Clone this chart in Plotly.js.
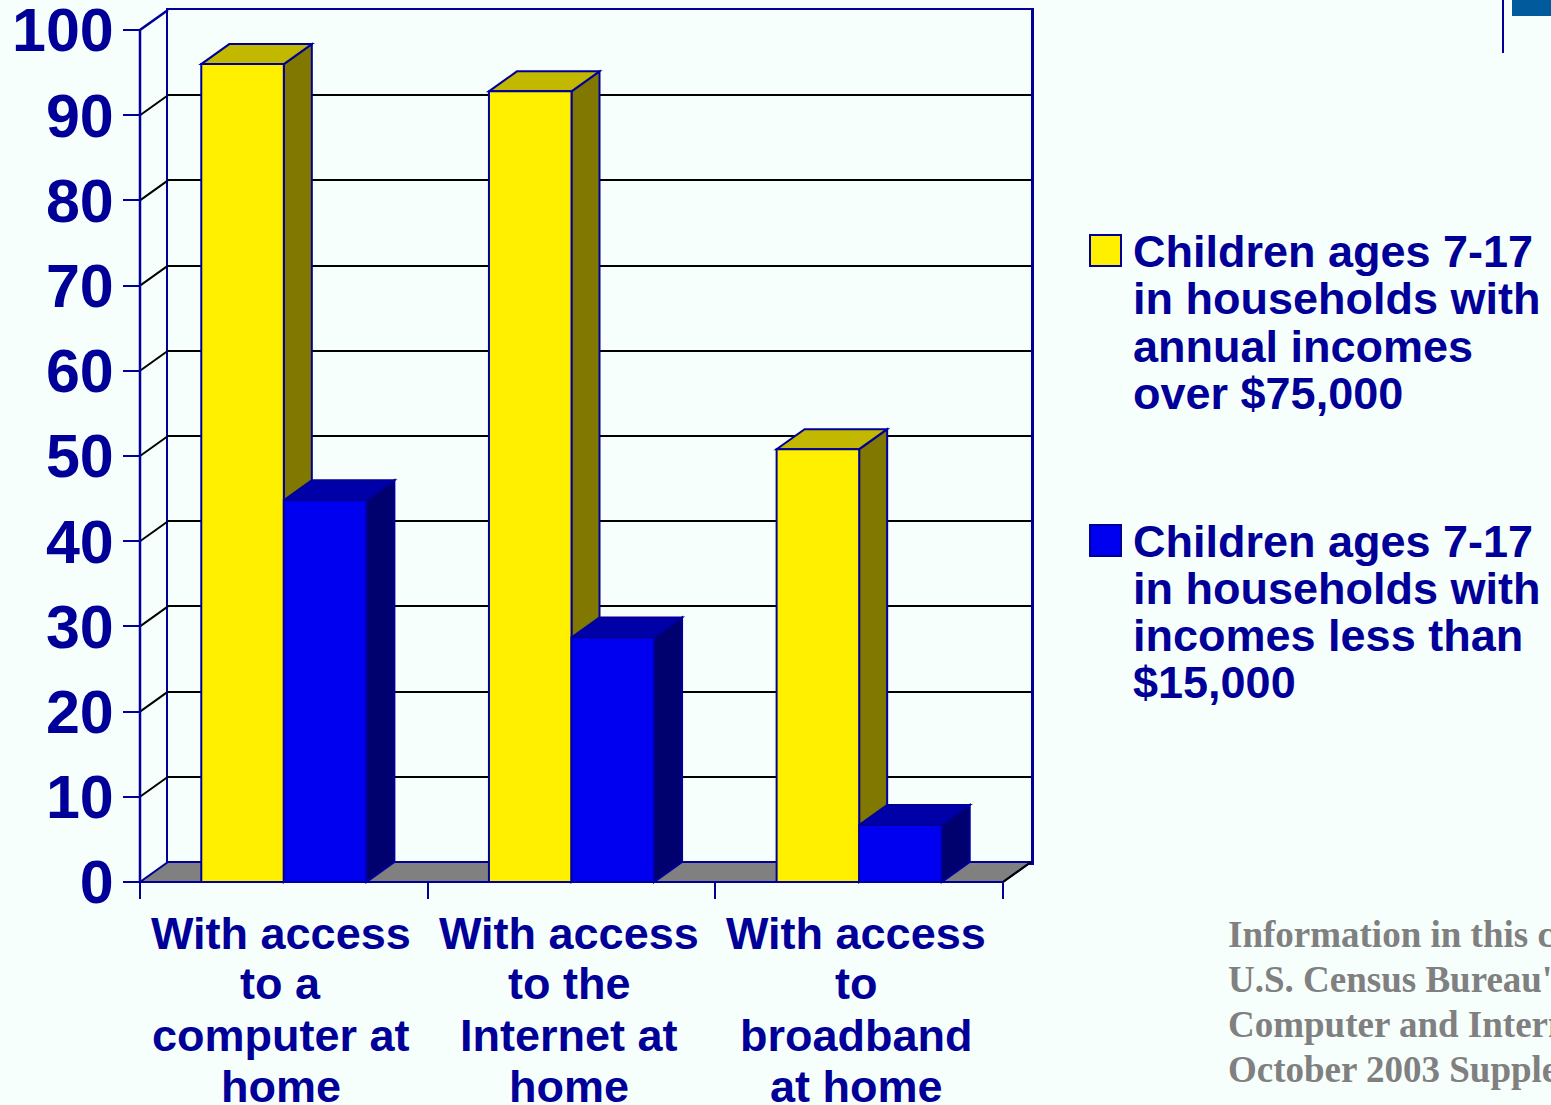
<!DOCTYPE html>
<html><head><meta charset="utf-8">
<script src="https://cdn.plot.ly/plotly-3.0.1.min.js"></script>
<style>html,body{margin:0;padding:0;background:#F7FFFC;overflow:hidden}</style>
</head><body><div id="chart" style="width:1551px;height:1105px"></div>
<script>
// ---------------- data ----------------
const categories = [
  "With access<br>to a<br>computer at<br>home",
  "With access<br>to the<br>Internet at<br>home",
  "With access<br>to<br>broadband<br>at home"
];
const seriesNames = [
  "Children ages 7-17<br>in households with<br>annual incomes<br>over $75,000",
  "Children ages 7-17<br>in households with<br>incomes less than<br>$15,000"
];
const highIncome = [96, 92.8, 50.8];
const lowIncome = [44.8, 28.7, 6.7];
const yTicks = [0, 10, 20, 30, 40, 50, 60, 70, 80, 90, 100];
const sourceLines = [
  "Information in this chart",
  "U.S. Census Bureau's",
  "Computer and Internet",
  "October 2003 Supplement"
];

// ---------------- styling / geometry ----------------
const W = 1551, H = 1105;
const NAVY = '#000099';
const BG = '#F7FFFC';
const YEL = {front: '#FFF000', top: '#C2B800', side: '#807800'};
const BLU = {front: '#0000F0', top: '#0000A8', side: '#00006E'};
const FONT = 'Liberation Sans, Arial, sans-serif';

const FRONT_L = 140, FRONT_R = 1003, FRONT_Y0 = 882, FRONT_Y100 = 30;
const DX = 28, DY = 20;
const nCat = categories.length;
const CAT_W = (FRONT_R - FRONT_L) / nCat;
const PXU = (FRONT_Y0 - FRONT_Y100) / 100;
const dxu = DX / CAT_W, dyu = DY / PXU;
const F_DOM_L = 122, F_DOM_R = 1045, F_DOM_T = 3, F_DOM_B = 895;
const BARGAP = 0.426;
const gw = 1 - BARGAP, bw = gw / 2;

const px = p => p / W;
const py = p => 1 - p / H;
const idx = categories.map((_, i) => i);

// ---------------- traces ----------------
const traces = [
  {type: 'scatter', x: [], y: [], xaxis: 'x', yaxis: 'y', showlegend: false, hoverinfo: 'skip'},
  {type: 'bar', x: idx, y: highIncome, xaxis: 'x2', yaxis: 'y2', name: seriesNames[0],
   marker: {color: YEL.front, line: {color: NAVY, width: 2}}, showlegend: false},
  {type: 'bar', x: idx, y: lowIncome, xaxis: 'x2', yaxis: 'y2', name: seriesNames[1],
   marker: {color: BLU.front, line: {color: NAVY, width: 2}}, showlegend: false}
];

// ---------------- shapes ----------------
const shapes = [];
const P = pts => 'M' + pts.map(p => p[0] + ',' + p[1]).join(' L') + ' Z';
const L0 = -0.5, R0 = nCat - 0.5;
// floor
shapes.push({type: 'path', xref: 'x2', yref: 'y2', layer: 'below',
  path: P([[L0, 0], [R0, 0], [R0 + dxu, dyu], [L0 + dxu, dyu]]),
  fillcolor: '#808080', line: {color: NAVY, width: 2}});
shapes.push({type: 'line', xref: 'x2', yref: 'y2', layer: 'below',
  x0: R0, y0: 0, x1: R0 + dxu, y1: dyu, line: {color: '#000000', width: 2}});
// left wall diagonals
yTicks.slice(1, -1).forEach(v => {
  shapes.push({type: 'line', xref: 'x2', yref: 'y2', layer: 'below',
    x0: L0, y0: v, x1: L0 + dxu, y1: v + dyu, line: {color: '#000000', width: 2}});
});
// left wall outline (front axis line + top edge)
const yMax = yTicks[yTicks.length - 1];
shapes.push({type: 'path', xref: 'x2', yref: 'y2', layer: 'below',
  path: 'M' + L0 + ',0 L' + L0 + ',' + yMax + ' L' + (L0 + dxu) + ',' + (yMax + dyu),
  line: {color: NAVY, width: 2.5}});
// 3D faces of bars
const seriesVals = [highIncome, lowIncome];
const seriesCols = [YEL, BLU];
seriesVals.forEach((vals, s) => {
  vals.forEach((v, j) => {
    const x0 = j - gw / 2 + s * bw, x1 = x0 + bw;
    shapes.push({type: 'path', xref: 'x2', yref: 'y2', layer: 'below',
      path: P([[x1, 0], [x1, v], [x1 + dxu, v + dyu], [x1 + dxu, dyu]]),
      fillcolor: seriesCols[s].side, line: {color: NAVY, width: 2}});
    shapes.push({type: 'path', xref: 'x2', yref: 'y2', layer: 'below',
      path: P([[x0, v], [x1, v], [x1 + dxu, v + dyu], [x0 + dxu, v + dyu]]),
      fillcolor: seriesCols[s].top, line: {color: NAVY, width: 2}});
  });
});
// legend keys
const LEG_TOP = [235, 525];
LEG_TOP.forEach((t, s) => {
  shapes.push({type: 'rect', xref: 'paper', yref: 'paper',
    x0: px(1090), x1: px(1121), y0: py(t), y1: py(t + 31),
    fillcolor: seriesCols[s].front, line: {color: NAVY, width: 2}});
});
// logo fragment top-right
shapes.push({type: 'line', xref: 'paper', yref: 'paper', x0: px(1503), x1: px(1503), y0: py(0), y1: py(53),
  line: {color: NAVY, width: 2}});
shapes.push({type: 'rect', xref: 'paper', yref: 'paper', x0: px(1512), x1: px(1560), y0: py(-2), y1: py(16),
  fillcolor: '#005A9C', line: {width: 0}});

// ---------------- annotations ----------------
const annotations = [];
categories.forEach((c, j) => {
  c.split('<br>').forEach((line, k) => {
    annotations.push({xref: 'x2', yref: 'paper', x: j, xshift: -3, y: py(933 + k * 51), text: line,
      showarrow: false, xanchor: 'center', yanchor: 'middle',
      font: {family: FONT, size: 45, color: NAVY, weight: 'bold'}});
  });
});
const LEG_C = [252, 541];
seriesNames.forEach((n, s) => {
  n.split('<br>').forEach((line, k) => {
    annotations.push({xref: 'paper', yref: 'paper', x: px(1131), y: py(LEG_C[s] + k * 47), text: line,
      showarrow: false, xanchor: 'left', yanchor: 'middle',
      font: {family: FONT, size: 45, color: NAVY, weight: 'bold'}});
  });
});
sourceLines.forEach((line, k) => {
  annotations.push({xref: 'paper', yref: 'paper', x: px(1226), y: py(934 + k * 45), text: line,
    showarrow: false, xanchor: 'left', yanchor: 'middle',
    font: {family: 'Liberation Serif, Times New Roman, serif', size: 37, color: '#808080', weight: 'bold'}});
});

// ---------------- layout ----------------
const layout = {
  width: W, height: H,
  margin: {l: 0, r: 0, t: 0, b: 0},
  paper_bgcolor: BG, plot_bgcolor: 'rgba(0,0,0,0)',
  showlegend: false,
  barmode: 'group', bargap: BARGAP, bargroupgap: 0,
  xaxis: {domain: [px(168), px(1031)], range: [0, 1], showgrid: false, zeroline: false,
    showticklabels: false, ticks: '', showline: true, mirror: true, linecolor: NAVY, linewidth: 2.5,
    fixedrange: true},
  yaxis: {domain: [py(862), py(10)], range: [0, yMax], tickvals: yTicks, showticklabels: false, ticks: '',
    showgrid: true, gridcolor: '#000000', gridwidth: 2, zeroline: false,
    showline: true, mirror: true, linecolor: NAVY, linewidth: 2.5, fixedrange: true},
  xaxis2: {domain: [px(F_DOM_L), px(F_DOM_R)],
    range: [L0 - (FRONT_L - F_DOM_L) / CAT_W, L0 + (F_DOM_R - FRONT_L) / CAT_W],
    anchor: 'free', position: py(FRONT_Y0),
    tickvals: categories.map((_, i) => i - 0.5).concat([nCat - 0.5]),
    ticks: 'outside', ticklen: 16, tickwidth: 2, tickcolor: NAVY,
    showticklabels: false, showgrid: false, zeroline: false, showline: false, fixedrange: true},
  yaxis2: {domain: [py(F_DOM_B), py(F_DOM_T)],
    range: [-(F_DOM_B - FRONT_Y0) / PXU, (FRONT_Y0 - F_DOM_T) / PXU],
    anchor: 'free', position: px(FRONT_L),
    tickvals: yTicks, ticks: 'outside', ticklen: 17, tickwidth: 2, tickcolor: NAVY,
    ticklabelstandoff: -3, ticklabeloverflow: 'allow',
    tickfont: {family: FONT, size: 61, color: NAVY, weight: 'bold'},
    showgrid: false, zeroline: false, showline: false, fixedrange: true},
  shapes: shapes,
  annotations: annotations
};

Plotly.newPlot('chart', traces, layout, {displayModeBar: false, staticPlot: true});
</script>
</body></html>
